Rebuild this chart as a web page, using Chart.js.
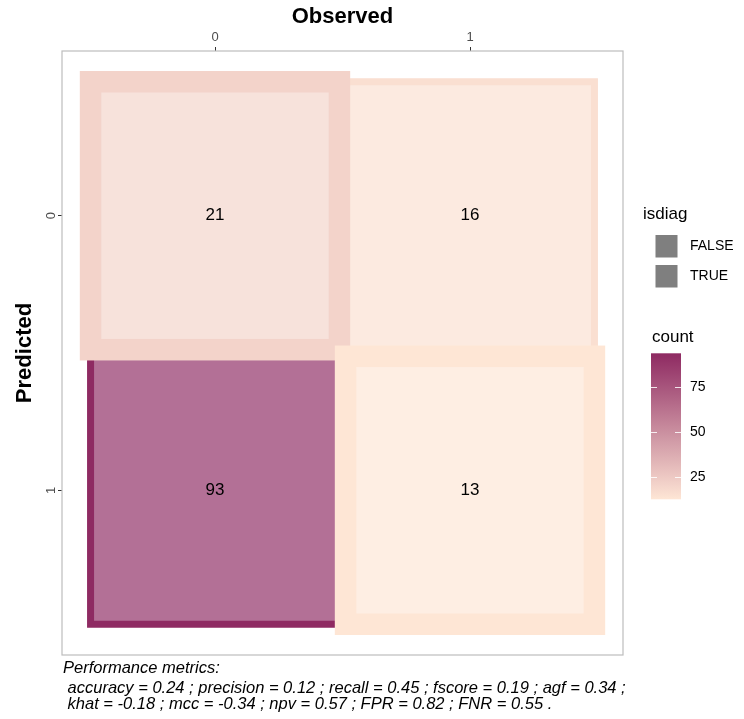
<!DOCTYPE html>
<html>
<head>
<meta charset="utf-8">
<script src="https://cdn.jsdelivr.net/npm/chart.js@4.4.1/dist/chart.umd.min.js"></script>
<style>
  body { margin: 0; background: #fff; }
  canvas { display: block; }
</style>
</head>
<body>
<canvas id="cm" width="744" height="719"></canvas>
<script>
// axis categories
const obsLabels = ['0', '1'];
const predLabels = ['0', '1'];

// confusion matrix cells (in drawing order)
const cellObs = [0, 1, 0, 1];
const cellPred = [1, 0, 0, 1];
const cellCount = [93, 16, 21, 13];
const cellDiag = [false, false, true, true];

// legends
const diagLevels = ['FALSE', 'TRUE'];
const countTicks = [25, 50, 75];

const metricsTitle = 'Performance metrics:';
const metricsLines = [
    ' accuracy = 0.24 ; precision = 0.12 ; recall = 0.45 ; fscore = 0.19 ; agf = 0.34 ;',
    ' khat = -0.18 ; mcc = -0.34 ; npv = 0.57 ; FPR = 0.82 ; FNR = 0.55 .'
];

const FONT = "'Liberation Sans', Arial, Helvetica, sans-serif";
Chart.defaults.font.family = FONT;

const lowCol = [254, 230, 213];
const highCol = [142, 42, 98];
const cMin = Math.min(...cellCount);
const cMax = Math.max(...cellCount);

function countRGB(v) {
    const t = (v - cMin) / (cMax - cMin);
    return lowCol.map((c, i) => Math.round(c + (highCol[i] - c) * t));
}
function rgb(a) { return `rgb(${a.join(',')})`; }
function tint(a, alpha) { return a.map(c => Math.round(c * alpha + 255 * (1 - alpha))); }

const tilePlugin = {
    id: 'tiles',
    beforeDatasetsDraw(chart) {
        const { ctx, scales: { x, y } } = chart;
        const h = 0.488; // half tile size in data units
        ctx.save();
        cellCount.forEach((n, i) => {
            const l = x.getPixelForValue(cellObs[i] - h);
            const r = x.getPixelForValue(cellObs[i] + h);
            const t = y.getPixelForValue(cellPred[i] - h);
            const b = y.getPixelForValue(cellPred[i] + h);
            const col = countRGB(n);
            ctx.fillStyle = rgb(tint(col, 0.67));
            ctx.fillRect(l, t, r - l, b - t);
            ctx.lineWidth = cellDiag[i] ? 21.5 : 7;
            ctx.strokeStyle = rgb(col);
            ctx.strokeRect(l, t, r - l, b - t);
        });
        ctx.fillStyle = '#000';
        ctx.font = `17px ${FONT}`;
        ctx.textAlign = 'center';
        ctx.textBaseline = 'middle';
        cellCount.forEach((n, i) => {
            ctx.fillText(String(n), x.getPixelForValue(cellObs[i]), y.getPixelForValue(cellPred[i]));
        });
        ctx.restore();
    },
    afterDraw(chart) {
        const { ctx, chartArea: a } = chart;
        ctx.save();
        // panel border
        ctx.strokeStyle = '#bdbdbd';
        ctx.lineWidth = 1.2;
        ctx.strokeRect(a.left, a.top, a.right - a.left, a.bottom - a.top);

        // isdiag legend
        ctx.fillStyle = '#000';
        ctx.textAlign = 'left';
        ctx.textBaseline = 'middle';
        ctx.font = `17px ${FONT}`;
        ctx.fillText('isdiag', 643, 214);
        ctx.font = `14px ${FONT}`;
        diagLevels.forEach((lab, i) => {
            const top = 235 + i * 30;
            ctx.fillStyle = '#7f7f7f';
            ctx.fillRect(655.5, top, 22, 22.5);
            ctx.fillStyle = '#000';
            ctx.fillText(lab, 690, top + 11.5);
        });

        // count colourbar
        ctx.font = `17px ${FONT}`;
        ctx.fillText('count', 652, 337);
        const barTop = 353.3, barBot = 499.3, barL = 651, barR = 681;
        const vTop = 93.4, vBot = 12.9;
        const vy = v => barTop + (vTop - v) / (vTop - vBot) * (barBot - barTop);
        const g = ctx.createLinearGradient(0, barTop, 0, barBot);
        for (let k = 0; k <= 10; k++) {
            const v = vTop - (vTop - vBot) * k / 10;
            const cv = Math.max(cMin, Math.min(cMax, v));
            g.addColorStop(k / 10, rgb(countRGB(cv)));
        }
        ctx.fillStyle = g;
        ctx.fillRect(barL, barTop, barR - barL, barBot - barTop);
        ctx.strokeStyle = 'rgba(255,255,255,0.85)';
        ctx.lineWidth = 1;
        ctx.font = `14px ${FONT}`;
        countTicks.forEach(v => {
            const ty = Math.round(vy(v)) + 0.5;
            ctx.beginPath();
            ctx.moveTo(barL, ty); ctx.lineTo(barL + 6, ty);
            ctx.moveTo(barR - 6, ty); ctx.lineTo(barR, ty);
            ctx.stroke();
            ctx.fillStyle = '#000';
            ctx.fillText(String(v), 690, vy(v));
        });

        // metrics caption
        ctx.font = `italic 16.5px ${FONT}`;
        ctx.fillStyle = '#000';
        ctx.fillText(metricsTitle, 63, 668);
        metricsLines.forEach((line, i) => ctx.fillText(line, 63, 688 + i * 16));
        ctx.restore();
    }
};

new Chart(document.getElementById('cm'), {
    type: 'scatter',
    data: {
        datasets: [{
            data: cellCount.map((n, i) => ({ x: cellObs[i], y: cellPred[i] })),
            pointRadius: 0,
            pointHoverRadius: 0
        }]
    },
    options: {
        responsive: false,
        animation: false,
        devicePixelRatio: 1,
        layout: { padding: { left: 0, top: 0, right: 121, bottom: 64 } },
        plugins: {
            legend: { display: false },
            tooltip: { enabled: false }
        },
        scales: {
            x: {
                type: 'linear',
                position: 'top',
                min: -0.6,
                max: 1.6,
                afterBuildTicks: s => { s.ticks = obsLabels.map((_, i) => ({ value: i })); },
                afterFit: s => { s.height = 51; },
                ticks: {
                    callback: v => obsLabels[v],
                    color: '#4d4d4d',
                    font: { size: 13 },
                    padding: 2,
                    maxRotation: 0
                },
                grid: { drawOnChartArea: false, drawTicks: true, tickLength: 4, color: '#333' },
                border: { display: false },
                title: {
                    display: true,
                    text: 'Observed',
                    color: '#000',
                    font: { size: 22, weight: 'bold' },
                    padding: { top: 4, bottom: 0 }
                }
            },
            y: {
                type: 'linear',
                reverse: true,
                min: -0.6,
                max: 1.6,
                afterBuildTicks: s => { s.ticks = predLabels.map((_, i) => ({ value: i })); },
                afterFit: s => { s.width = 62; },
                ticks: {
                    callback: v => predLabels[v],
                    color: '#4d4d4d',
                    font: { size: 13 },
                    padding: 3,
                    minRotation: 90,
                    maxRotation: 90,
                    crossAlign: 'center'
                },
                grid: { drawOnChartArea: false, drawTicks: true, tickLength: 4, color: '#333' },
                border: { display: false },
                title: {
                    display: true,
                    text: 'Predicted',
                    color: '#000',
                    font: { size: 22, weight: 'bold' },
                    padding: { top: 12, bottom: 0 }
                }
            }
        }
    },
    plugins: [tilePlugin]
});
</script>
</body>
</html>
